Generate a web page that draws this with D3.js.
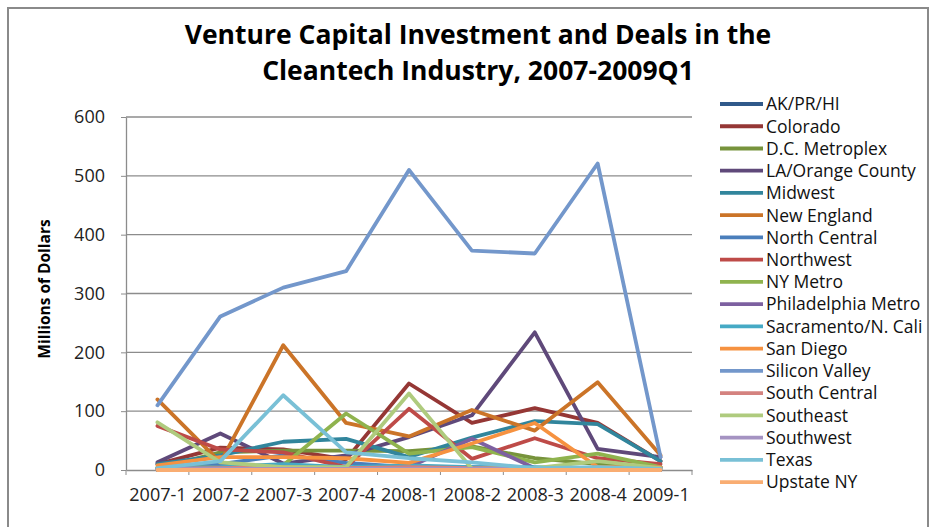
<!DOCTYPE html>
<html>
<meta charset="utf-8">
<style>
  body { margin: 0; background: #fff; }
  text { font-family: "Open Sans", sans-serif; }
</style>
<body>
<script src="https://d3js.org/d3.v7.min.js"></script>
<script>
  // quarters on the x axis
  var categories = ["2007-1","2007-2","2007-3","2007-4","2008-1","2008-2","2008-3","2008-4","2009-1"];
  var yTicks = [0, 100, 200, 300, 400, 500, 600];

  // millions of dollars per region
  var akprhi      = [0, 2, 0, 0, 0, 0, 0, 0, 0];
  var colorado    = [10, 38, 35, 18, 147, 80, 105, 80, 15];
  var dcMetro     = [3, 30, 33, 33, 32, 40, 20, 10, 5];
  var laOrange    = [13, 62, 11, 25, 56, 93, 234, 36, 22];
  var midwest     = [10, 25, 48, 53, 22, 55, 83, 78, 15];
  var newEngland  = [120, 13, 212, 80, 57, 102, 67, 149, 25];
  var northCentral= [3, 10, 25, 12, 5, 5, 3, 3, 3];
  var northwest   = [75, 35, 30, 5, 104, 19, 54, 20, 10];
  var nyMetro     = [5, 5, 8, 96, 28, 39, 13, 28, 5];
  var philly      = [2, 5, 5, 3, 5, 53, 3, 3, 5];
  var sacramento  = [3, 5, 10, 5, 8, 5, 5, 3, 3];
  var sanDiego    = [8, 22, 22, 20, 12, 45, 80, 5, 5];
  var siliconValley = [110, 261, 310, 338, 510, 373, 368, 521, 22];
  var southCentral= [2, 3, 5, 3, 5, 3, 3, 3, 2];
  var southeast   = [81, 13, 5, 5, 130, 2, 3, 15, 3];
  var southwest   = [1, 2, 2, 2, 2, 2, 2, 2, 2];
  var texas       = [3, 15, 127, 30, 20, 13, 3, 5, 2];
  var upstateNY   = [0, 0, 0, 0, 0, 0, 0, 0, 0];

  var seriesNames = ["AK/PR/HI","Colorado","D.C. Metroplex","LA/Orange County","Midwest","New England",
    "North Central","Northwest","NY Metro","Philadelphia Metro","Sacramento/N. Cali","San Diego",
    "Silicon Valley","South Central","Southeast","Southwest","Texas","Upstate NY"];
  var seriesValues = [akprhi, colorado, dcMetro, laOrange, midwest, newEngland, northCentral, northwest,
    nyMetro, philly, sacramento, sanDiego, siliconValley, southCentral, southeast, southwest, texas, upstateNY];
  var seriesColors = ["#30598A","#953735","#77933C","#5F497A","#31859C","#CB7428","#4A7EBB","#BE4B48",
    "#8FB34E","#7D60A0","#46AAC5","#F69240","#7397CB","#D4827F","#AFCB7E","#A593C2","#79C0D6","#F9AD72"];

  var W = 936, H = 527;
  var plot = {left: 126, right: 692, top: 117, bottom: 470};

  var svg = d3.select("body").append("svg")
      .attr("width", W)
      .attr("height", H);

  // chart frame
  svg.append("rect")
      .attr("x", 8).attr("y", 8)
      .attr("width", 920).attr("height", 540)
      .attr("fill", "none")
      .attr("stroke", "#8a8a8a")
      .attr("stroke-width", 2);

  var x = d3.scalePoint().domain(categories).range([plot.left, plot.right]).padding(0.5);
  var y = d3.scaleLinear().domain([0, 600]).range([plot.bottom, plot.top]);

  // gridlines
  svg.append("g")
    .selectAll("line")
    .data(yTicks.slice(1))
    .join("line")
      .attr("x1", plot.left).attr("x2", plot.right)
      .attr("y1", d => y(d)).attr("y2", d => y(d))
      .attr("stroke", "#8c8c8c")
      .attr("stroke-width", 1.3);

  // y axis
  var yAxis = svg.append("g")
      .attr("transform", `translate(${plot.left},0)`)
      .call(d3.axisLeft(y).tickValues(yTicks).tickSize(5).tickPadding(16).tickSizeOuter(0));
  yAxis.select(".domain").attr("stroke", "#8c8c8c").attr("stroke-width", 1.3);
  yAxis.selectAll(".tick line").attr("stroke", "#8c8c8c");
  yAxis.selectAll("text").attr("font-size", 18).attr("fill", "#222").style("font-family", "Open Sans");

  // x axis
  var step = x.step();
  var xAxis = svg.append("g")
      .attr("transform", `translate(0,${plot.bottom})`)
      .call(d3.axisBottom(x).tickSize(0).tickPadding(18).tickSizeOuter(0));
  xAxis.select(".domain").attr("stroke", "#8c8c8c").attr("stroke-width", 1.3);
  xAxis.selectAll("text").attr("font-size", 18).attr("fill", "#222").style("font-family", "Open Sans");
  xAxis.selectAll(".bound")
    .data(d3.range(categories.length + 1))
    .join("line")
      .attr("class", "bound")
      .attr("x1", d => plot.left + d * step).attr("x2", d => plot.left + d * step)
      .attr("y1", 0).attr("y2", 5)
      .attr("stroke", "#8c8c8c");

  // series lines
  var line = d3.line()
      .x((d, i) => x(categories[i]))
      .y(d => y(d));

  svg.append("g")
    .selectAll("path")
    .data(seriesValues)
    .join("path")
      .attr("d", d => line(d))
      .attr("fill", "none")
      .attr("stroke", (d, i) => seriesColors[i])
      .attr("stroke-width", 3.8)
      .attr("stroke-linejoin", "round")
      .attr("stroke-linecap", "round");

  // title
  var title = svg.append("text")
      .attr("text-anchor", "middle")
      .attr("font-weight", "bold")
      .attr("font-size", 26.5)
      .attr("fill", "#000");
  title.append("tspan").attr("x", 478).attr("y", 44).text("Venture Capital Investment and Deals in the");
  title.append("tspan").attr("x", 478).attr("y", 80).text("Cleantech Industry, 2007-2009Q1");

  // y axis title
  svg.append("text")
      .attr("transform", "translate(50,289) rotate(-90)")
      .attr("text-anchor", "middle")
      .attr("font-weight", "bold")
      .attr("font-size", 15.5)
      .attr("fill", "#000")
      .text("Millions of Dollars");

  // legend
  var legend = svg.append("g")
    .selectAll("g")
    .data(seriesNames)
    .join("g")
      .attr("transform", (d, i) => `translate(720,${104 + i * 22.24})`);

  legend.append("line")
      .attr("x1", 0).attr("x2", 43)
      .attr("stroke", (d, i) => seriesColors[i])
      .attr("stroke-width", 3.8);

  legend.append("text")
      .attr("x", 46)
      .attr("dy", "0.36em")
      .attr("font-size", 17.5)
      .attr("fill", "#111")
      .text(d => d);
</script>
</body>
</html>
